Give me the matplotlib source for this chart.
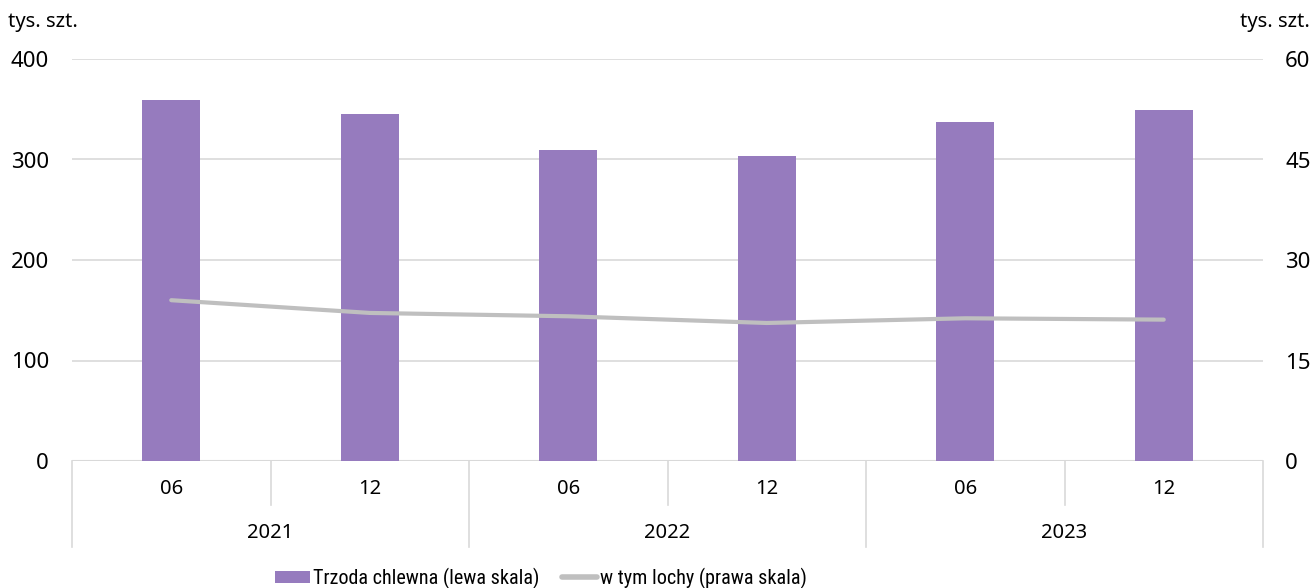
import os
import numpy as np
import matplotlib.pyplot as plt
import matplotlib.transforms as mtransforms
from matplotlib import font_manager
from matplotlib.font_manager import FontProperties
from matplotlib.lines import Line2D
from matplotlib.patches import Patch

plt.rcParams['font.family'] = ['Noto Sans', 'DejaVu Sans']

months = ['06', '12', '06', '12', '06', '12']
years = ['2021', '2022', '2023']
trzoda = [359, 345, 309.5, 303.5, 337, 349]
lochy = [24.0, 22.1, 21.6, 20.6, 21.3, 21.1]

bar_color = '#967BBE'
line_color = '#BFBFBF'
grid_color = '#D9D9D9'


def condensed_font(size):
    # the legend in the original uses a condensed face; look for one by file name
    files = [f.fname for f in font_manager.fontManager.ttflist]
    wanted = ['NotoSans-Condensed.ttf', 'NotoSans-SemiCondensed.ttf',
              'RobotoCondensed-Regular.ttf', 'LiberationSansNarrow-Regular.ttf',
              'OpenSans_Condensed-Regular.ttf', 'OpenSans-CondensedRegular.ttf']
    for w in wanted:
        for f in files:
            if os.path.basename(f) == w:
                return FontProperties(fname=f, size=size)
    for f in files:
        b = os.path.basename(f).lower()
        if ('condensed' in b or 'narrow' in b) and 'bold' not in b and 'italic' not in b \
                and 'light' not in b and 'thin' not in b and 'black' not in b \
                and 'medium' not in b and 'extra' not in b and 'semi' not in b:
            return FontProperties(fname=f, size=size)
    return FontProperties(family='Noto Sans', size=size * 0.78)


fig = plt.figure(figsize=(13.15, 5.88), dpi=100)
ax = fig.add_axes([72/1315, 1-461/588, (1263-72)/1315, 402/588])
ax2 = ax.twinx()

x = np.arange(len(months))
ax.bar(x, trzoda, width=0.29, color=bar_color, zorder=2)
ax2.plot(x, lochy, color=line_color, lw=3, solid_capstyle='round', zorder=3)

ax.set_xlim(-0.5, len(months) - 0.5)
ax.set_ylim(0, 400)
ax2.set_ylim(0, 60)
ax.set_yticks([0, 100, 200, 300, 400])
ax2.set_yticks([0, 15, 30, 45, 60])
ax.yaxis.grid(True, color=grid_color, lw=1.2)
ax.set_axisbelow(True)

for a in (ax, ax2):
    for s in a.spines.values():
        s.set_visible(False)
    a.tick_params(axis='x', length=0)
ax.tick_params(axis='y', length=0, labelsize=16, colors='black', pad=16.5)
ax2.tick_params(axis='y', length=0, labelsize=16, colors='black', pad=16)
ax.set_xticks([])

ax.axhline(0, color=grid_color, lw=1.5, zorder=1)

# two-level category axis
trans = mtransforms.blended_transform_factory(ax.transData, ax.transAxes)
for i, m in enumerate(months):
    ax.text(i, -0.07, m, transform=trans, ha='center', va='center', fontsize=14.5)
for i in range(len(months) + 1):
    xs = i - 0.5
    bottom = -0.215 if i % 2 == 0 else -0.11
    ax.plot([xs, xs], [0, bottom], transform=trans, color=grid_color, lw=1.2, clip_on=False)
for j, y in enumerate(years):
    ax.text(2 * j + 0.5, -0.18, y, transform=trans, ha='center', va='center', fontsize=14.5)

fig.text(8/1315, 1-22/588, 'tys. szt.', ha='left', va='center', fontsize=14.5)
fig.text(1310/1315, 1-22/588, 'tys. szt.', ha='right', va='center', fontsize=14.5)

handles = [Patch(facecolor=bar_color, edgecolor='none'),
           Line2D([0], [0], color=line_color, lw=4, solid_capstyle='round')]
fig.legend(handles, ['Trzoda chlewna (lewa skala)', 'w tym lochy (prawa skala)'],
           loc='center', bbox_to_anchor=(541/1315, 1-578/588), ncol=2, frameon=False,
           prop=condensed_font(14.5), handlelength=1.75, handletextpad=0.15,
           columnspacing=1.1, handleheight=0.55, borderpad=0.2)

fig.savefig('out.png', dpi=100)
